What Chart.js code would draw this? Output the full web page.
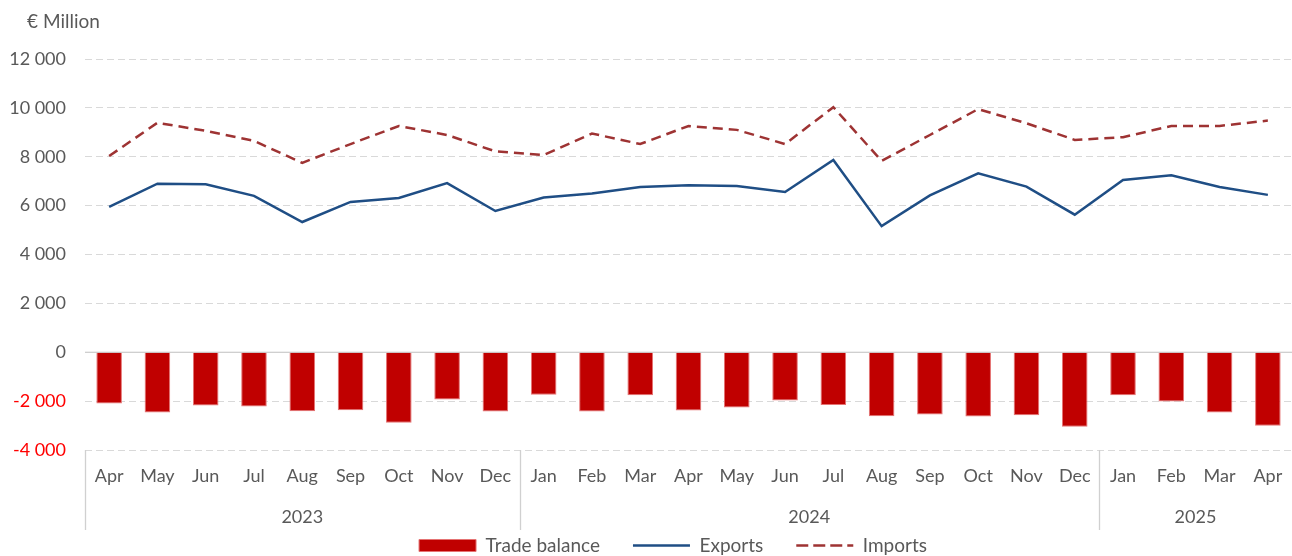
<!DOCTYPE html>
<html>
<head>
<meta charset="utf-8">
<script src="https://cdn.jsdelivr.net/npm/chart.js@4/dist/chart.umd.min.js"></script>
<style>
  html, body { margin: 0; padding: 0; background: #ffffff; }
  #wrap { width: 1292px; height: 556px; position: relative; }
</style>
</head>
<body>
<div id="wrap"><canvas id="c"></canvas></div>
<script>
const months = ['Apr','May','Jun','Jul','Aug','Sep','Oct','Nov','Dec',
  'Jan','Feb','Mar','Apr','May','Jun','Jul','Aug','Sep','Oct','Nov','Dec',
  'Jan','Feb','Mar','Apr'];
const yearLabels = ['2023', '2024', '2025'];
const yearCounts = [9, 12, 4];

const tradeBalance = [-2100, -2470, -2180, -2220, -2410, -2370, -2890, -1930, -2420,
  -1740, -2420, -1760, -2380, -2260, -1970, -2160,
  -2620, -2550, -2630, -2580, -3050, -1760, -2020, -2470, -3010];
const exportsData = [5950, 6900, 6870, 6400, 5330, 6150, 6310, 6920, 5780,
  6330, 6500, 6760, 6830, 6800, 6560, 7870,
  5160, 6420, 7320, 6780, 5630, 7050, 7240, 6760, 6440];
const importsData = [8030, 9390, 9060, 8650, 7750, 8520, 9260, 8890, 8220,
  8070, 8950, 8520, 9260, 9100, 8520, 10030,
  7830, 8890, 9950, 9370, 8690, 8800, 9260, 9260, 9480];

const yTicks = [-4000, -2000, 0, 2000, 4000, 6000, 8000, 10000, 12000];
const unitLabel = '€ Million';

const FONT = 'Lato, "Open Sans", sans-serif';
const GRAY = '#595959';

function fmt(v) {
  const s = Math.abs(v).toString().replace(/\B(?=(\d{3})+(?!\d))/g, ' ');
  return (v < 0 ? '-' : '') + s;
}

const extras = {
  id: 'extras',
  afterLayout(chart) {
    const lg = chart.legend;
    if (lg) { lg.left += 27; lg.right += 27; }
  },
  beforeDatasetsDraw(chart) {
    const {ctx, chartArea, scales} = chart;
    const y0 = scales.y.getPixelForValue(0);
    ctx.save();
    ctx.strokeStyle = '#BFBFBF';
    ctx.lineWidth = 1.2;
    ctx.beginPath();
    ctx.moveTo(chartArea.left, y0);
    ctx.lineTo(chartArea.right, y0);
    ctx.stroke();
    ctx.restore();
  },
  afterDraw(chart) {
    const {ctx, chartArea, scales} = chart;
    const x = scales.x;
    const step = x.getPixelForValue(1) - x.getPixelForValue(0);
    ctx.save();
    ctx.fillStyle = GRAY;
    ctx.font = '19px ' + FONT;
    ctx.textAlign = 'left';
    ctx.textBaseline = 'middle';
    ctx.fillText(unitLabel, 27, 22);
    ctx.font = '18px ' + FONT;
    ctx.strokeStyle = '#D0D0D0';
    ctx.lineWidth = 1.3;
    let start = 0;
    ctx.textAlign = 'center';
    for (let i = 0; i < yearLabels.length; i++) {
      const end = start + yearCounts[i] - 1;
      const xl = x.getPixelForValue(start) - step / 2;
      ctx.beginPath();
      ctx.moveTo(Math.round(xl) + 0.5, chartArea.bottom);
      ctx.lineTo(Math.round(xl) + 0.5, chartArea.bottom + 80);
      ctx.stroke();
      const xc = (x.getPixelForValue(start) + x.getPixelForValue(end)) / 2;
      ctx.fillText(yearLabels[i], xc, chartArea.bottom + 67);
      start = end + 1;
    }
    ctx.restore();
  }
};

new Chart(document.getElementById('c'), {
  type: 'bar',
  data: {
    labels: months,
    datasets: [
      {
        type: 'bar',
        label: 'Trade balance',
        data: tradeBalance,
        backgroundColor: '#C00000',
        borderColor: '#E57373',
        borderWidth: 1,
        barPercentage: 0.53,
        categoryPercentage: 1.0
      },
      {
        type: 'line',
        label: 'Exports',
        data: exportsData,
        borderColor: '#1F4E85',
        backgroundColor: '#1F4E85',
        borderWidth: 2.5,
        pointRadius: 0,
        tension: 0
      },
      {
        type: 'line',
        label: 'Imports',
        data: importsData,
        borderColor: '#9E3333',
        backgroundColor: '#9E3333',
        borderWidth: 2.5,
        borderDash: [10, 6],
        pointRadius: 0,
        tension: 0
      }
    ]
  },
  options: {
    responsive: true,
    maintainAspectRatio: false,
    animation: false,
    layout: { padding: { top: 59, right: 0, left: 0, bottom: -9 } },
    plugins: {
      tooltip: { enabled: false },
      legend: {
        position: 'bottom',
        labels: {
          color: GRAY,
          font: { family: FONT, size: 19 },
          usePointStyle: true,
          pointStyleWidth: 57,
          boxWidth: 57,
          boxHeight: 12,
          padding: 33,
          generateLabels(chart) {
            const items = Chart.defaults.plugins.legend.labels.generateLabels(chart);
            items.sort((a, b) => a.datasetIndex - b.datasetIndex);
            items.forEach((it) => {
              it.pointStyle = it.datasetIndex === 0 ? 'rect' : 'line';
              if (it.datasetIndex === 0) { it.lineWidth = 1; }
              if (it.datasetIndex === 2) { it.lineDash = [12, 5]; }
            });
            return items;
          }
        }
      }
    },
    scales: {
      x: {
        grid: { display: false },
        border: { display: false },
        ticks: {
          color: GRAY,
          font: { family: FONT, size: 18 },
          padding: 7,
          maxRotation: 0,
          autoSkip: false
        },
        afterFit(scale) { scale.height = 53; }
      },
      y: {
        min: -4000,
        max: 12000,
        afterBuildTicks(scale) { scale.ticks = yTicks.map(v => ({ value: v })); },
        grid: {
          drawTicks: false,
          color: (ctx) => ctx.tick && ctx.tick.value === 0 ? 'rgba(0,0,0,0)' : '#D9D9D9',
          lineWidth: 1
        },
        border: { display: false, dash: [7, 4] },
        ticks: {
          color: (ctx) => ctx.tick && ctx.tick.value < 0 ? '#FF0000' : GRAY,
          font: { family: FONT, size: 18 },
          padding: 19,
          callback: (v) => fmt(v)
        },
        afterFit(scale) { scale.width = 85; }
      }
    }
  },
  plugins: [extras]
});
</script>
</body>
</html>
